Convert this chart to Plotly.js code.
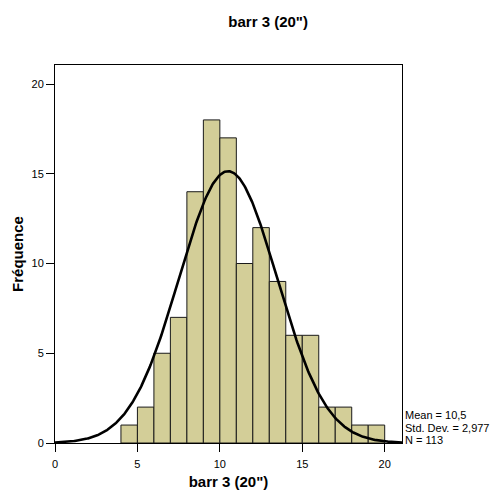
<!DOCTYPE html>
<html><head><meta charset="utf-8">
<script src="https://cdn.plot.ly/plotly-3.0.1.min.js"></script>
<style>html,body{margin:0;padding:0;background:#fff;}</style>
</head><body>
<div id="chart" style="width:492px;height:491px;"></div>
<script>
const binStarts = [4,5,6,7,8,9,10,11,12,13,14,15,16,17,18,19];
const counts = [1,2,5,7,14,18,17,10,12,9,6,6,2,2,1,1];
const binWidth = 1;
const meanVal = 10.5;
const stdDev = 2.977;
const nTotal = 113;
const statLabels = ["Mean = 10,5", "Std. Dev. = 2,977", "N = 113"];

const centers = binStarts.map(s => s + binWidth/2);
const cx = [], cy = [];
for (let i = 0; i <= 421; i++) {
  const x = i * 0.05;
  cx.push(x);
  cy.push(nTotal * binWidth / (stdDev * Math.sqrt(2*Math.PI)) * Math.exp(-0.5*Math.pow((x-meanVal)/stdDev,2)));
}

const font = "Liberation Sans, Arial, sans-serif";
const data = [
  {type:'bar', x:centers, y:counts, width:binWidth,
   marker:{color:'#D3CE98', line:{color:'#1a1a1a', width:1}}, hoverinfo:'x+y'},
  {type:'scatter', mode:'lines', x:cx, y:cy, line:{color:'#000', width:2.6}, hoverinfo:'skip'}
];
const layout = {
  width:492, height:491,
  margin:{l:55, r:90, t:65, b:48},
  paper_bgcolor:'#fff', plot_bgcolor:'#fff',
  showlegend:false, bargap:0,
  font:{family:font, size:11, color:'#000'},
  title:{text:'<b>barr 3 (20")</b>', font:{family:font, size:15, color:'#000'},
         x:0.545, xanchor:'center', y:0.955, yanchor:'middle'},
  xaxis:{range:[0,21.05], tickvals:[0,5,10,15,20], ticks:'outside', ticklen:8, tickcolor:'#000',
         ticklabelstandoff:3,
         showgrid:false, zeroline:false, showline:true, linecolor:'#000', linewidth:1, mirror:true,
         tickfont:{family:font, size:11, color:'#000'},
         title:{text:'<b>barr 3 (20")</b>', font:{family:font, size:15, color:'#000'}, standoff:7}},
  yaxis:{range:[0,21.06], tickvals:[0,5,10,15,20], ticks:'outside', ticklen:8, tickcolor:'#000',
         showgrid:false, zeroline:false, showline:true, linecolor:'#000', linewidth:1, mirror:true,
         tickfont:{family:font, size:11, color:'#000'},
         title:{text:'<b>Fréquence</b>', font:{family:font, size:15, color:'#000'}, standoff:4}},
  annotations: statLabels.map((t,i)=>({text:t, xref:'paper', yref:'paper', x:1.003, xanchor:'left',
     y:(443 - (415 + i*12.5))/378, yanchor:'middle', showarrow:false, font:{family:font,size:11,color:'#000'}}))
};
Plotly.newPlot('chart', data, layout, {displayModeBar:false, staticPlot:true});
</script>
</body></html>
